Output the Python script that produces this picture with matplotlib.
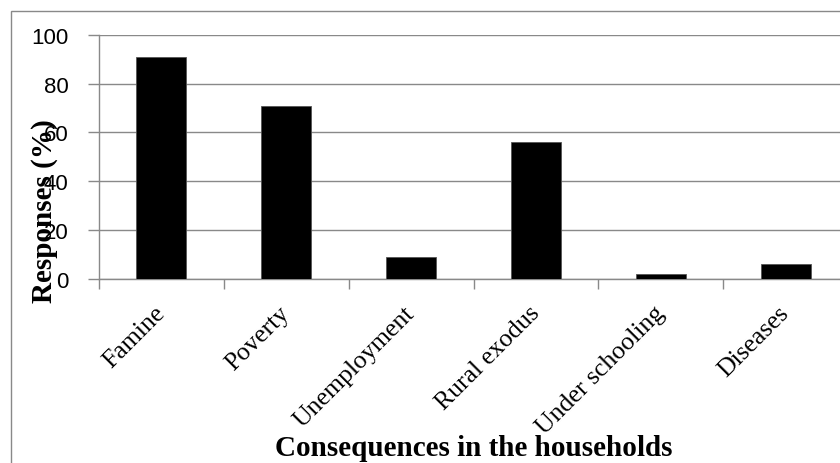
import numpy as np
import matplotlib
matplotlib.use('Agg')
import matplotlib.pyplot as plt
from matplotlib.patches import Rectangle

# responses per consequence (%)
categories = ['Famine', 'Poverty', 'Unemployment', 'Rural exodus', 'Under schooling', 'Diseases']
responses = [91, 71, 9, 56, 2, 6]
yticks = [0, 20, 40, 60, 80, 100]

grey = '#898989'

fig = plt.figure(figsize=(8.4, 4.64), dpi=100)
# plot area runs a little past the right edge of the figure
ax = fig.add_axes([99/840, 184/464, 749/840, 244.3/464])

x = np.arange(len(categories))
ax.bar(x, responses, width=0.4, color='black', edgecolor='#555555', linewidth=0.6, zorder=3)

ax.set_xlim(-0.5, len(categories) - 0.5)
ax.set_ylim(0, 100)
ax.set_yticks(yticks)
ax.set_yticklabels([str(v) for v in yticks], fontsize=16, family='Liberation Sans')
ax.grid(axis='y', color=grey, linewidth=1.0, zorder=0)

# category labels at the bar centres, tick marks between categories
ax.set_xticks(x)
ax.set_xticklabels(categories, rotation=45, ha='right', va='center', rotation_mode='anchor',
                   fontsize=18.5, family='Liberation Serif')
ax.tick_params(axis='x', which='major', length=0, pad=22)
ax.set_xticks(np.arange(len(categories) + 1) - 0.5, minor=True)
ax.tick_params(axis='x', which='minor', length=7, color=grey, width=1)
ax.tick_params(axis='y', length=8, color=grey, width=1, pad=14)

for side in ['top', 'right']:
    ax.spines[side].set_visible(False)
for side in ['left', 'bottom']:
    ax.spines[side].set_color(grey)
    ax.spines[side].set_linewidth(1.0)

fig.text(45/840, 1 - 211/464, 'Responses (%)', rotation=90, ha='center', va='center',
         fontsize=21, fontweight='bold', family='Liberation Serif')
fig.text(473.5/840, 1 - 449/464, 'Consequences in the households', ha='center', va='center',
         fontsize=21, fontweight='bold', family='Liberation Serif')

# outer chart border
fig.patches.append(Rectangle((11/840, -0.05), 1.2, 1 - 12/464 + 0.05, transform=fig.transFigure,
                             fill=False, edgecolor=grey, linewidth=1.0))

fig.savefig('out.png', dpi=100)
